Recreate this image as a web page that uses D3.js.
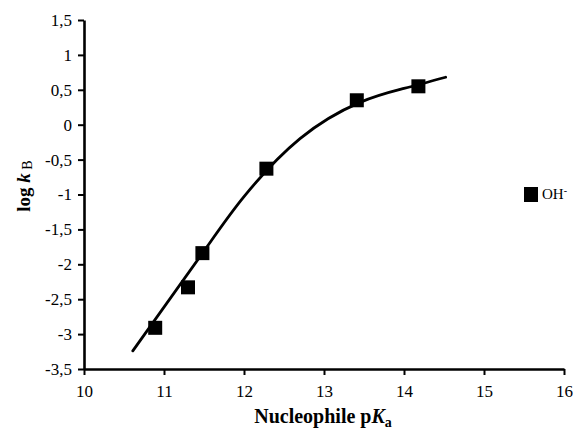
<!DOCTYPE html>
<html>
<head>
<meta charset="utf-8">
<script src="https://cdn.jsdelivr.net/npm/d3@7"></script>
<style>
  html, body { margin: 0; padding: 0; background: #fff; }
  svg { display: block; }
  text { font-family: "Liberation Serif", "Times New Roman", serif; fill: #000; }
</style>
</head>
<body>
<svg id="chart" width="573" height="432"></svg>
<script>
// Measured rate constants (log kB) against nucleophile pKa
const pKa = [10.89, 11.30, 11.48, 12.28, 13.41, 14.18];
const logKB = [-2.91, -2.33, -1.84, -0.63, 0.35, 0.55];

// Fitted curve through the data
const fitPKa = [10.61, 11.5, 12.0, 12.7, 13.45, 14.0, 14.52];
const fitLogKB = [-3.24, -1.81, -1.03, -0.20, 0.32, 0.52, 0.68];

// Axis ticks
const xTicks = [10, 11, 12, 13, 14, 15, 16];
const xTickLabels = ["10", "11", "12", "13", "14", "15", "16"];
const yTicks = [-3.5, -3, -2.5, -2, -1.5, -1, -0.5, 0, 0.5, 1, 1.5];
const yTickLabels = ["-3,5", "-3", "-2,5", "-2", "-1,5", "-1", "-0,5", "0", "0,5", "1", "1,5"];

const seriesName = "OH";

const svg = d3.select("#chart");

const x = d3.scaleLinear().domain([10, 16]).range([84, 564]);
const y = d3.scaleLinear().domain([-3.5, 1.5]).range([369, 20]);

// Axes
const xAxis = d3.axisBottom(x)
  .tickValues(xTicks)
  .tickFormat((d, i) => xTickLabels[i])
  .tickSizeInner(6).tickSizeOuter(0).tickPadding(10);
const yAxis = d3.axisLeft(y)
  .tickValues(yTicks)
  .tickFormat((d, i) => yTickLabels[i])
  .tickSizeInner(6).tickSizeOuter(0).tickPadding(6);

const gx = svg.append("g").attr("transform", `translate(0,${y(-3.5)})`).call(xAxis);
const gy = svg.append("g").attr("transform", `translate(${x(10)},0)`).call(yAxis);

[gx, gy].forEach(g => {
  g.attr("font-family", "'Liberation Serif', serif").attr("font-size", 17);
  g.select(".domain").attr("stroke", "#000").attr("stroke-width", 2.6);
  g.selectAll(".tick line").attr("stroke", "#000").attr("stroke-width", 2);
  g.selectAll(".tick text")
    .style("font-family", "'Liberation Serif', serif")
    .style("font-size", "17px")
    .attr("fill", "#000");
});

// Fitted curve
const line = d3.line()
  .x((d, i) => x(fitPKa[i]))
  .y((d, i) => y(fitLogKB[i]))
  .curve(d3.curveNatural);

svg.append("path")
  .datum(fitPKa)
  .attr("d", line)
  .attr("fill", "none")
  .attr("stroke", "#000")
  .attr("stroke-width", 2.8)
  .attr("stroke-linecap", "round");

// Data markers
const ms = 14;
svg.append("g").selectAll("rect")
  .data(pKa)
  .join("rect")
  .attr("x", (d) => x(d) - ms / 2)
  .attr("y", (d, i) => y(logKB[i]) - ms / 2)
  .attr("width", ms)
  .attr("height", ms)
  .attr("fill", "#000");

// Legend
const legend = svg.append("g").attr("transform", "translate(531,194)");
legend.append("rect")
  .attr("x", -7).attr("y", -7).attr("width", 14).attr("height", 15)
  .attr("fill", "#000");
const lt = legend.append("text")
  .attr("x", 11).attr("y", 5)
  .style("font-size", "15px");
lt.append("tspan").text(seriesName);
lt.append("tspan").attr("dy", -5).style("font-size", "10px").text("-");

// Axis titles
const xt = svg.append("text")
  .attr("x", 323).attr("y", 423)
  .attr("text-anchor", "middle")
  .style("font-size", "20px")
  .style("font-weight", "bold");
xt.append("tspan").text("Nucleophile p");
xt.append("tspan").style("font-style", "italic").text("K");
xt.append("tspan").attr("dy", 4).style("font-size", "14px").text("a");

const yt = svg.append("text")
  .attr("transform", "translate(30,186) rotate(-90)")
  .attr("text-anchor", "middle")
  .style("font-size", "19px")
  .style("font-weight", "bold");
yt.append("tspan").text("log ");
yt.append("tspan").style("font-style", "italic").text("k");
yt.append("tspan").attr("dy", 2).style("font-size", "14px").style("font-weight", "normal").text(" B");
</script>
</body>
</html>
